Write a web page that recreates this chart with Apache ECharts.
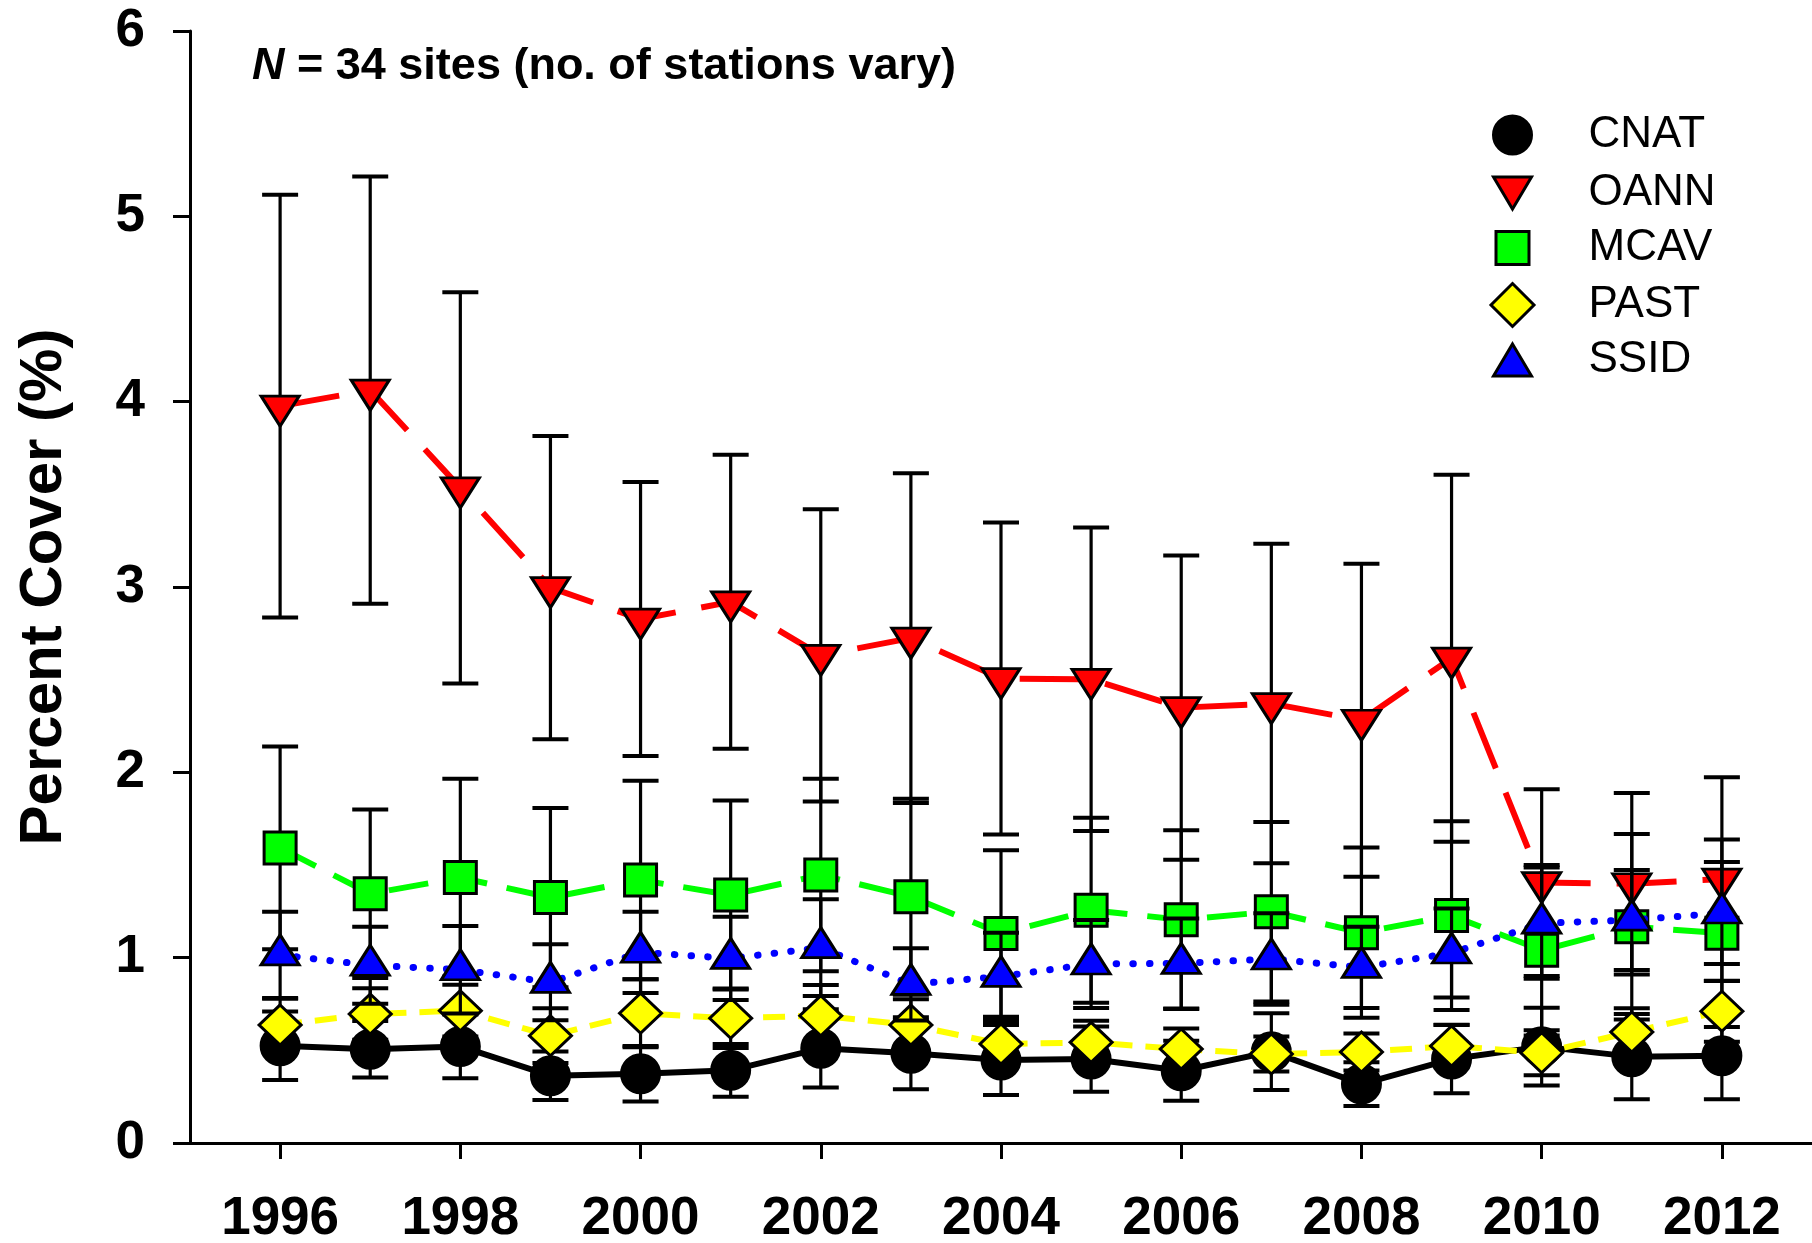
<!DOCTYPE html>
<html>
<head>
<meta charset="utf-8">
<script src="https://cdn.jsdelivr.net/npm/echarts@6/dist/echarts.min.js"></script>
<style>
  html, body { margin: 0; padding: 0; background: #ffffff; }
  #chart { width: 1812px; height: 1243px; }
</style>
</head>
<body>
<div id="chart"></div>
<script>
// Survey years and labelled ticks
const years = [1996, 1997, 1998, 1999, 2000, 2001, 2002, 2003, 2004, 2005, 2006, 2007, 2008, 2009, 2010, 2011, 2012];
const yearTicks = [1996, 1998, 2000, 2002, 2004, 2006, 2008, 2010, 2012];

// Mean percent cover and standard error per species
const cnatMean = [0.525, 0.506, 0.521, 0.363, 0.374, 0.392, 0.511, 0.484, 0.448, 0.453, 0.390, 0.493, 0.318, 0.453, 0.520, 0.466, 0.471];
const cnatSE   = [0.185, 0.152, 0.172, 0.131, 0.150, 0.142, 0.211, 0.194, 0.189, 0.176, 0.162, 0.207, 0.118, 0.185, 0.210, 0.230, 0.235];

const oannMean = [3.976, 4.062, 3.535, 2.997, 2.827, 2.920, 2.631, 2.724, 2.506, 2.502, 2.349, 2.371, 2.281, 2.616, 1.405, 1.399, 1.424];
const oannSE   = [1.140, 1.153, 1.056, 0.818, 0.739, 0.793, 0.788, 0.890, 0.842, 0.819, 0.821, 0.862, 0.844, 0.990, 0.504, 0.490, 0.550];

const mcavMean = [1.592, 1.345, 1.432, 1.324, 1.419, 1.338, 1.446, 1.329, 1.130, 1.256, 1.205, 1.248, 1.135, 1.227, 1.040, 1.167, 1.132];
const mcavSE   = [0.547, 0.455, 0.534, 0.483, 0.535, 0.510, 0.519, 0.529, 0.449, 0.499, 0.482, 0.484, 0.459, 0.509, 0.460, 0.500, 0.506];

const pastMean = [0.637, 0.696, 0.714, 0.579, 0.700, 0.673, 0.687, 0.637, 0.534, 0.543, 0.507, 0.480, 0.491, 0.523, 0.487, 0.599, 0.711];
const pastSE   = [0.142, 0.139, 0.140, 0.148, 0.184, 0.160, 0.165, 0.139, 0.115, 0.117, 0.111, 0.094, 0.100, 0.114, 0.122, 0.128, 0.165];

const ssidMean = [1.015, 0.959, 0.935, 0.867, 1.029, 0.996, 1.054, 0.856, 0.899, 0.966, 0.969, 0.993, 0.948, 1.025, 1.186, 1.203, 1.241];
const ssidSE   = [0.233, 0.208, 0.236, 0.205, 0.219, 0.225, 0.261, 0.195, 0.236, 0.237, 0.243, 0.247, 0.219, 0.240, 0.300, 0.270, 0.275];

const FONT = 'Liberation Sans, Arial, Helvetica, sans-serif';
const DOWN_TRIANGLE = 'path://M0,0L38,0L19,32Z';

// Vertical SE whiskers with flat caps
function errorBars(name, mean, se, z) {
  return {
    type: 'custom',
    name: name + ' SE',
    z: z,
    silent: true,
    animation: false,
    data: years.map((yr, i) => [yr, mean[i] - se[i], mean[i] + se[i]]),
    encode: { x: 0, y: [1, 2] },
    renderItem: function (params, api) {
      const lo = api.coord([api.value(0), api.value(1)]);
      const hi = api.coord([api.value(0), api.value(2)]);
      const hw = 18;
      const stem = { stroke: '#000', lineWidth: 3.2 };
      const cap = { stroke: '#000', lineWidth: 4 };
      return {
        type: 'group',
        children: [
          { type: 'line', shape: { x1: lo[0], y1: lo[1], x2: hi[0], y2: hi[1] }, style: stem },
          { type: 'line', shape: { x1: hi[0] - hw, y1: hi[1], x2: hi[0] + hw, y2: hi[1] }, style: cap },
          { type: 'line', shape: { x1: lo[0] - hw, y1: lo[1], x2: lo[0] + hw, y2: lo[1] }, style: cap }
        ]
      };
    }
  };
}

function meanLine(name, mean, fill, lineColor, dash, symbol, size, offset, z, extraLine) {
  return {
    type: 'line',
    name: name,
    z: z,
    data: years.map((yr, i) => [yr, mean[i]]),
    symbol: symbol,
    symbolSize: size,
    symbolOffset: offset,
    showSymbol: true,
    showAllSymbol: true,
    animation: false,
    itemStyle: { color: fill, borderColor: '#000', borderWidth: 3 },
    lineStyle: Object.assign({ color: lineColor, width: 6, type: dash }, extraLine || {}),
    emphasis: { disabled: true }
  };
}

// Legend rows: one component each so every marker keeps its own size
const legendRows = [
  { name: 'CNAT', icon: 'circle', w: 38, h: 38, cy: 135 },
  { name: 'OANN', icon: DOWN_TRIANGLE, w: 38, h: 32, cy: 193 },
  { name: 'MCAV', icon: 'rect', w: 33, h: 33, cy: 248 },
  { name: 'PAST', icon: 'diamond', w: 43, h: 43, cy: 304 },
  { name: 'SSID', icon: 'triangle', w: 38, h: 32, cy: 360 }
];
const legendCenterX = 1511;
const legendTextX = 1587;

const chart = echarts.init(document.getElementById('chart'), null, { renderer: 'canvas' });

const option = {
  backgroundColor: '#ffffff',
  animation: false,
  textStyle: { fontFamily: FONT },
  title: {
    text: '{n|N}{t| = 34 sites (no. of stations vary)}',
    left: 252,
    top: 42,
    padding: 0,
    textStyle: {
      rich: {
        n: { fontFamily: FONT, fontSize: 45, fontWeight: 'bold', fontStyle: 'italic', color: '#000', lineHeight: 50 },
        t: { fontFamily: FONT, fontSize: 45, fontWeight: 'bold', color: '#000', lineHeight: 50 }
      }
    }
  },
  legend: legendRows.map(r => ({
    data: [{ name: r.name, icon: r.icon }],
    orient: 'vertical',
    left: legendCenterX - r.w / 2,
    top: r.cy - 22,
    padding: 0,
    itemWidth: r.w,
    itemHeight: r.h,
    selectedMode: false,
    itemStyle: { borderColor: '#000', borderWidth: 3 },
    textStyle: {
      fontFamily: FONT,
      fontSize: 44,
      color: '#000',
      padding: [0, 0, 0, legendTextX - (legendCenterX - r.w / 2) - r.w - 5]
    }
  })),
  grid: {
    left: 190,
    right: 0,
    top: 31,
    bottom: 100,
    containLabel: false,
    outerBoundsMode: 'none'
  },
  xAxis: {
    type: 'value',
    min: 1995,
    max: 2013,
    splitLine: { show: false },
    axisLine: { show: true, lineStyle: { color: '#000', width: 3 } },
    axisTick: { show: true, customValues: yearTicks, length: 16, lineStyle: { color: '#000', width: 3 } },
    axisLabel: {
      customValues: yearTicks,
      margin: 50,
      fontFamily: FONT,
      fontSize: 53,
      fontWeight: 'bold',
      color: '#000',
      formatter: v => String(v)
    }
  },
  yAxis: {
    type: 'value',
    min: 0,
    max: 6,
    interval: 1,
    name: 'Percent Cover (%)',
    nameLocation: 'middle',
    nameRotate: 90,
    nameGap: 116,
    nameTextStyle: { fontFamily: FONT, fontSize: 60, fontWeight: 'bold', color: '#000' },
    splitLine: { show: false },
    axisLine: { show: true, lineStyle: { color: '#000', width: 3 } },
    axisTick: { show: true, length: 17, lineStyle: { color: '#000', width: 3 } },
    axisLabel: { margin: 45, padding: [7, 0, 0, 0], fontFamily: FONT, fontSize: 53, fontWeight: 'bold', color: '#000' }
  },
  series: [
    errorBars('CNAT', cnatMean, cnatSE, 2),
    meanLine('CNAT', cnatMean, '#000000', '#000000', 'solid', 'circle', 38, [0, 0], 3),
    errorBars('OANN', oannMean, oannSE, 4),
    meanLine('OANN', oannMean, '#ff0000', '#ff0000', [60, 26], DOWN_TRIANGLE, [38, 30], [0, 5], 5),
    errorBars('MCAV', mcavMean, mcavSE, 6),
    meanLine('MCAV', mcavMean, '#00ff00', '#00ff00', [40, 20], 'rect', [32, 32], [0, 0], 7),
    errorBars('PAST', pastMean, pastSE, 8),
    meanLine('PAST', pastMean, '#ffff00', '#ffff00', [22, 13], 'diamond', [42, 40], [0, 0], 9),
    errorBars('SSID', ssidMean, ssidSE, 10),
    meanLine('SSID', ssidMean, '#0000ff', '#0000ff', [0.5, 16.2], 'triangle', [38, 30], [0, -5], 11, { cap: 'round', width: 7 })
  ]
};

chart.setOption(option);
</script>
</body>
</html>
